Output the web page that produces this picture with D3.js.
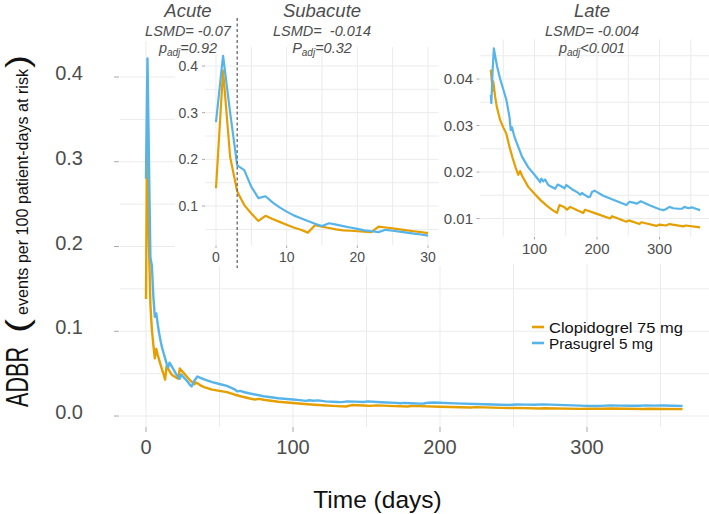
<!DOCTYPE html>
<html><head><meta charset="utf-8">
<script src="https://cdn.jsdelivr.net/npm/d3@7"></script>
<style>
body{margin:0;background:#fff}
svg{display:block}
text{font-family:"Liberation Sans",Arial,Helvetica,sans-serif}
</style>
</head><body>
<svg id="c" width="709" height="514"></svg>
<script>
// ---------------- data ----------------
const seriesNames = ["Clopidogrel 75 mg", "Prasugrel 5 mg"];

const clopDays = [0,1,2,3,4,5,6,7,8,9,10,11,12,13,14,15,16,17,18,19,20,21,22,23,24,25,26,27,28,29,30,
  31,32,33,34,35,37,40,45,50,55,60,65,70,74,77,80,90,100,110,120,130,136,140,148,152,157,165,178,181,
  200,221,224,247,251,268,271,295,300,310,316,338,342,365];
const clopValues = [0.138,0.390,0.205,0.131,0.102,0.084,0.068,0.079,0.072,0.066,0.060,0.054,0.049,0.043,
  0.059,0.056,0.053,0.050,0.048,0.047,0.046,0.045,0.044,0.056,0.054,0.052,0.050,0.048,0.046,0.044,0.042,
  0.0405,0.0390,0.0375,0.0395,0.0385,0.0362,0.0338,0.0312,0.0296,0.0282,0.0254,0.0230,0.0209,0.0194,0.0202,
  0.0192,0.0168,0.0153,0.0139,0.0127,0.0117,0.0112,0.0129,0.0124,0.0119,0.0125,0.0120,0.0112,0.0119,
  0.0110,0.0100,0.0105,0.0093,0.0096,0.0088,0.0092,0.0084,0.0087,0.0085,0.0088,0.0083,0.0085,0.0081];

const prasDays = [0,1,2,3,4,5,6,7,8,9,10,11,12,13,14,15,16,17,18,19,20,21,22,23,24,25,26,27,28,29,30,
  31,33,35,37,40,45,50,55,60,62,64,67,70,80,90,100,106,109,111,114,117,122,130,133,137,142,148,151,
  160,170,173,176,180,186,189,192,196,210,230,247,252,258,264,270,285,300,306,310,316,322,330,336,340,
  346,352,358,365];
const prasValues = [0.280,0.422,0.300,0.187,0.177,0.141,0.117,0.121,0.108,0.097,0.088,0.080,0.074,0.068,
  0.062,0.057,0.063,0.060,0.057,0.054,0.051,0.048,0.046,0.044,0.049,0.047,0.045,0.043,0.041,0.039,0.0366,
  0.0348,0.0419,0.0466,0.0450,0.0428,0.0400,0.0378,0.0355,0.0318,0.0290,0.0296,0.0280,0.0268,0.0233,
  0.0210,0.0194,0.0184,0.0178,0.0186,0.0180,0.0184,0.0172,0.0166,0.0164,0.0173,0.0170,0.0165,0.0172,
  0.0163,0.0155,0.0151,0.0155,0.0151,0.0146,0.0147,0.0157,0.0160,0.0149,0.0138,0.0129,0.0136,0.0134,
  0.0132,0.0137,0.0128,0.0120,0.0118,0.0120,0.0125,0.0122,0.0121,0.0121,0.0125,0.0122,0.0124,0.0121,0.0118];

const mainXTicks = [0,100,200,300];
const mainYTicks = [0,0.1,0.2,0.3,0.4];
const mainYLabels = ["0.0","0.1","0.2","0.3","0.4"];
const acuteXTicks = [0,10,20,30];
const acuteYTicks = [0.1,0.2,0.3,0.4];
const lateXTicks = [100,200,300];
const lateYTicks = [0.01,0.02,0.03,0.04];

const periodTitles = ["Acute","Subacute","Late"];
const lsmdTexts = ["LSMD= -0.07","LSMD=  -0.014","LSMD= -0.004"];
const pPrefix = ["p","P","p"];
const pTexts = ["=0.92","=0.32","<0.001"];
const acuteCut = 3;

// ---------------- drawing ----------------
const svg = d3.select("#c");
const ORANGE = "#E69F00", BLUE = "#56B4E9";
const GRID = "#ebebeb", TICK = "#a8a8a8", LAB = "#4d4d4d";
const clop = d3.zip(clopDays, clopValues);
const pras = d3.zip(prasDays, prasValues);
let clipId = 0;

function drawPanel(cfg) {
  const g = svg.append("g");
  const x = cfg.x, y = cfg.y;
  if (cfg.bg) {
    g.append("rect").attr("x", cfg.bg[0]).attr("y", cfg.bg[1])
      .attr("width", cfg.bg[2]).attr("height", cfg.bg[3]).attr("fill", "#fff");
  }
  g.append("g").selectAll("line").data(cfg.yGrid).join("line")
    .attr("x1", cfg.bx[0]).attr("x2", cfg.bx[1])
    .attr("y1", d => y(d)).attr("y2", d => y(d))
    .attr("stroke", GRID).attr("stroke-width", 1);
  g.append("g").selectAll("line").data(cfg.xGrid).join("line")
    .attr("y1", cfg.by[0]).attr("y2", cfg.by[1])
    .attr("x1", d => x(d)).attr("x2", d => x(d))
    .attr("stroke", GRID).attr("stroke-width", 1);
  const id = "clip" + (clipId++);
  g.append("clipPath").attr("id", id).append("rect")
    .attr("x", cfg.bx[0]).attr("y", cfg.by[0])
    .attr("width", cfg.bx[1] - cfg.bx[0]).attr("height", cfg.by[1] - cfg.by[0]);
  const ln = d3.line().x(d => x(d[0])).y(d => y(d[1]));
  const lg = g.append("g").attr("clip-path", `url(#${id})`);
  [[clop, ORANGE], [pras, BLUE]].forEach(([data, col]) => {
    lg.append("path").datum(data.filter(cfg.filter)).attr("d", ln)
      .attr("fill", "none").attr("stroke", col).attr("stroke-width", cfg.lw)
      .attr("stroke-linejoin", "round");
  });
  g.append("g").selectAll("line").data(cfg.yTicks).join("line")
    .attr("x1", cfg.yTickX[0]).attr("x2", cfg.yTickX[1])
    .attr("y1", d => y(d)).attr("y2", d => y(d))
    .attr("stroke", TICK).attr("stroke-width", 1);
  g.append("g").selectAll("text").data(cfg.yTicks).join("text")
    .attr("x", cfg.yLabX).attr("y", d => y(d) + cfg.yLabDy)
    .attr("text-anchor", "end").attr("font-size", cfg.fs).attr("fill", LAB)
    .text((d, i) => cfg.yFmt(d, i));
  g.append("g").selectAll("line").data(cfg.xTicks).join("line")
    .attr("y1", cfg.xTickY[0]).attr("y2", cfg.xTickY[1])
    .attr("x1", d => x(d)).attr("x2", d => x(d))
    .attr("stroke", TICK).attr("stroke-width", 1);
  g.append("g").selectAll("text").data(cfg.xTicks).join("text")
    .attr("x", d => x(d)).attr("y", cfg.xLabY)
    .attr("text-anchor", "middle").attr("font-size", cfg.fsx || cfg.fs).attr("fill", LAB)
    .text(d => d);
  return g;
}

// main panel
const mx = d3.scaleLinear().domain([0, 300]).range([146, 587]);
const my = d3.scaleLinear().domain([0, 0.4]).range([416, 77]);
drawPanel({
  x: mx, y: my, bx: [120, 709], by: [41, 427],
  xGrid: d3.range(0, 351, 50), yGrid: d3.range(0, 0.401, 0.05),
  filter: () => true, lw: 2.4,
  yTicks: mainYTicks, yTickX: [114, 119], yLabX: 83, yLabDy: 3, fs: 20,
  yFmt: (d, i) => mainYLabels[i],
  xTicks: mainXTicks, xTickY: [427, 432], xLabY: 454
});

// legend
const legY = [327, 343], legCol = [ORANGE, BLUE];
seriesNames.forEach((n, i) => {
  svg.append("line").attr("x1", 532).attr("x2", 544).attr("y1", legY[i]).attr("y2", legY[i])
    .attr("stroke", legCol[i]).attr("stroke-width", 2.6);
  svg.append("text").attr("x", 549).attr("y", legY[i] + 5.5).attr("font-size", 15.5)
    .attr("textLength", i === 0 ? 134 : 104).attr("lengthAdjust", "spacingAndGlyphs")
    .attr("fill", "#111").text(n);
});

// axis titles
svg.append("text").attr("x", 377.5).attr("y", 508).attr("text-anchor", "middle")
  .attr("font-size", 24.5).attr("fill", "#111").text("Time (days)");

function rotText(str, yStart, len, fs) {
  svg.append("text").attr("transform", `translate(28,${yStart}) rotate(-90)`)
    .attr("font-size", fs).attr("fill", "#111")
    .attr("textLength", len).attr("lengthAdjust", "spacingAndGlyphs").text(str);
}
rotText("ADBR", 407, 60, 32);
rotText("(", 333, 14, 32);
rotText("events per 100 patient-days at risk", 315, 246, 17);
rotText(")", 68, 13, 32);

// acute / subacute inset
const ax = d3.scaleLinear().domain([0, 30]).range([216, 428]);
const ay = d3.scaleLinear().domain([0, 0.4]).range([252.7, 66]);
drawPanel({
  x: ax, y: ay, bx: [205.4, 438.6], by: [46.9, 245.4],
  bg: [175, 0, 267, 266],
  xGrid: d3.range(0, 31, 5), yGrid: d3.range(0.05, 0.401, 0.05),
  filter: d => d[0] <= 30, lw: 2.2,
  yTicks: acuteYTicks, yTickX: [202, 205], yLabX: 198, yLabDy: 5, fs: 14,
  yFmt: d => d3.format(".1f")(d),
  xTicks: acuteXTicks, xTickY: [245.5, 248], xLabY: 261.5
});

// late inset
const lx = d3.scaleLinear().domain([100, 300]).range([534.5, 659.5]);
const ly = d3.scaleLinear().domain([0.01, 0.04]).range([218.5, 79]);
drawPanel({
  x: lx, y: ly, bx: [480.3, 709], by: [39.5, 236.6],
  bg: [442, 0, 267, 264],
  xGrid: d3.range(50, 351, 50), yGrid: d3.range(0.01, 0.0451, 0.005),
  filter: d => d[0] >= 30, lw: 2.2,
  yTicks: lateYTicks, yTickX: [476.5, 479.5], yLabX: 473, yLabDy: 5.3, fs: 15,
  yFmt: d => d3.format(".2f")(d),
  xTicks: lateXTicks, xTickY: [237, 239.5], xLabY: 254
});

// dashed separator acute | subacute
svg.append("line").attr("x1", ax(acuteCut)).attr("x2", ax(acuteCut))
  .attr("y1", 18).attr("y2", 268)
  .attr("stroke", "#666").attr("stroke-width", 1.3).attr("stroke-dasharray", "3,2.5");

// period titles
const titleX = [188, 322, 592];
periodTitles.forEach((t, i) => {
  svg.append("text").attr("x", titleX[i]).attr("y", 17).attr("text-anchor", "middle")
    .attr("font-size", 18.5).attr("font-style", "italic").attr("fill", LAB).text(t);
  svg.append("text").attr("x", titleX[i]).attr("y", 35.5).attr("text-anchor", "middle")
    .attr("font-size", 14.5).attr("font-style", "italic").attr("fill", LAB)
    .attr("xml:space", "preserve").style("white-space", "pre").text(lsmdTexts[i]);
  const pt = svg.append("text").attr("x", titleX[i]).attr("y", 52.5).attr("text-anchor", "middle")
    .attr("font-size", 14.5).attr("font-style", "italic").attr("fill", LAB);
  pt.append("tspan").text(pPrefix[i]);
  pt.append("tspan").attr("font-size", 10).attr("dy", 3.5).text("adj");
  pt.append("tspan").attr("dy", -3.5).text(pTexts[i]);
});
</script>
</body></html>
